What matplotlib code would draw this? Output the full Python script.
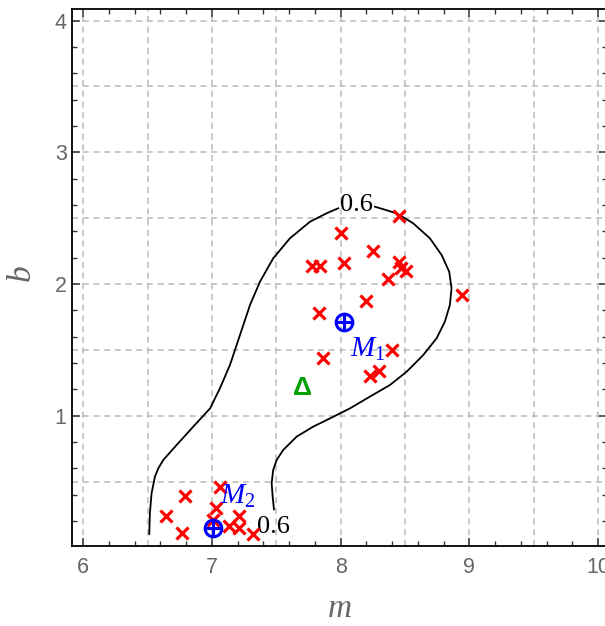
import matplotlib
matplotlib.use('Agg')
import matplotlib.pyplot as plt
import numpy as np
from matplotlib.ticker import MultipleLocator

# scattered samples (m, b)
pts_m = [8.45, 8.00, 8.25, 7.78, 7.84, 8.03, 8.45, 8.47, 8.51, 8.37, 8.94, 8.20,
         7.83, 8.40, 7.86, 8.30, 8.23,
         7.06, 6.79, 6.64, 6.77, 7.03, 7.21, 7.01, 7.13, 7.21, 7.32]
pts_b = [2.52, 2.39, 2.25, 2.14, 2.14, 2.16, 2.17, 2.12, 2.10, 2.04, 1.92, 1.87,
         1.78, 1.50, 1.44, 1.34, 1.30,
         0.46, 0.39, 0.24, 0.11, 0.30, 0.24, 0.21, 0.16, 0.15, 0.10]

# cluster centres
cent_m = [8.03, 7.01]
cent_b = [1.71, 0.145]
cent_names = [r'$M_1$', r'$M_2$']

delta_m, delta_b = 7.70, 1.21

# 0.6 level curve (left part up to the top label)
curve1_m = [6.513, 6.518, 6.531, 6.557, 6.583, 6.622, 6.726, 6.855, 6.986, 7.062,
            7.140, 7.218, 7.296, 7.373, 7.476, 7.606, 7.762, 7.891, 7.981]
curve1_b = [0.102, 0.259, 0.411, 0.537, 0.600, 0.664, 0.778, 0.917, 1.056, 1.208,
            1.385, 1.613, 1.841, 2.017, 2.195, 2.347, 2.473, 2.537, 2.575]
# right part, from the top label down to the lower label
curve2_m = [8.267, 8.435, 8.564, 8.694, 8.785, 8.844, 8.862, 8.849, 8.810, 8.746,
            8.642, 8.513, 8.383, 8.240, 8.073, 7.943, 7.787, 7.658, 7.554,
            7.503, 7.476, 7.464, 7.472, 7.482]
curve2_b = [2.587, 2.537, 2.461, 2.347, 2.220, 2.093, 1.967, 1.841, 1.714, 1.588,
            1.461, 1.334, 1.233, 1.152, 1.056, 0.992, 0.917, 0.841, 0.740,
            0.664, 0.588, 0.487, 0.385, 0.289]
level_labels = ['0.6', '0.6']
level_m = [8.12, 7.48]
level_b = [2.60, 0.155]

plt.rcParams['mathtext.fontset'] = 'custom'
plt.rcParams['mathtext.it'] = 'Liberation Serif:italic'
plt.rcParams['mathtext.rm'] = 'Liberation Serif'

fig = plt.figure(figsize=(6.05, 6.26), dpi=100)
ax = fig.add_axes([72.3 / 605, 80.3 / 626, 534.7 / 605, 536.4 / 626])
ax.set_xlim(5.915, 10.07)
ax.set_ylim(0.013, 4.086)

for g in np.arange(6, 10.01, 0.5):
    ax.axvline(g, color='#bbbbbb', lw=1.1, ls=(0, (4, 3)), zorder=0)
for g in np.arange(0.5, 4.01, 0.5):
    ax.axhline(g, color='#bbbbbb', lw=1.1, ls=(0, (4, 3)), zorder=0)

ax.plot(curve1_m, curve1_b, color='black', lw=1.3, zorder=2)
ax.plot(curve2_m, curve2_b, color='black', lw=1.3, zorder=2)
for lab, lm, lb in zip(level_labels, level_m, level_b):
    ax.text(lm, lb, lab, fontsize=19, family='Liberation Serif',
            ha='center', va='center', zorder=3)

ax.plot(pts_m, pts_b, ls='none', marker='x', color='red', ms=8, mew=2.3, zorder=4)

ax.plot(cent_m, cent_b, ls='none', marker='o', mfc='none', mec='blue', ms=12, mew=2.2, zorder=5)
ax.plot(cent_m, cent_b, ls='none', marker='+', color='blue', ms=12, mew=2.2, zorder=5)
ax.text(cent_m[0] + 0.04, cent_b[0] - 0.1, cent_names[0], color='blue', fontsize=21,
        ha='left', va='top', zorder=6)
ax.text(cent_m[1] + 0.05, cent_b[1] + 0.14, cent_names[1], color='blue', fontsize=21,
        ha='left', va='bottom', zorder=6)

ax.text(delta_m, delta_b, 'Δ', color='#00a000', fontsize=19, fontweight='bold',
        family='Liberation Sans', ha='center', va='center', zorder=6)

ax.xaxis.set_major_locator(MultipleLocator(1))
ax.xaxis.set_minor_locator(MultipleLocator(0.2))
ax.yaxis.set_major_locator(MultipleLocator(1))
ax.yaxis.set_minor_locator(MultipleLocator(0.2))
ax.tick_params(which='both', direction='in', top=True, right=True, color='#333333')
ax.tick_params(which='major', length=6, width=1.1, labelsize=15.5, labelcolor='#666666')
ax.tick_params(which='minor', length=3.5, width=1.0)
ax.tick_params(axis='x', pad=8)
ax.tick_params(axis='y', pad=4)
for lab in ax.get_xticklabels() + ax.get_yticklabels():
    lab.set_family('Liberation Sans')
for s in ax.spines.values():
    s.set_linewidth(1.3)

fig.text(340 / 605, 1 - 609 / 626, 'm', fontsize=24, style='italic', family='Liberation Serif',
         color='#666666', ha='center', va='center')
fig.text(22 / 605, 1 - 273 / 626, 'b', fontsize=24, style='italic', family='Liberation Serif',
         color='#666666', ha='center', va='center', rotation=90)

plt.savefig('out.png', dpi=100)
